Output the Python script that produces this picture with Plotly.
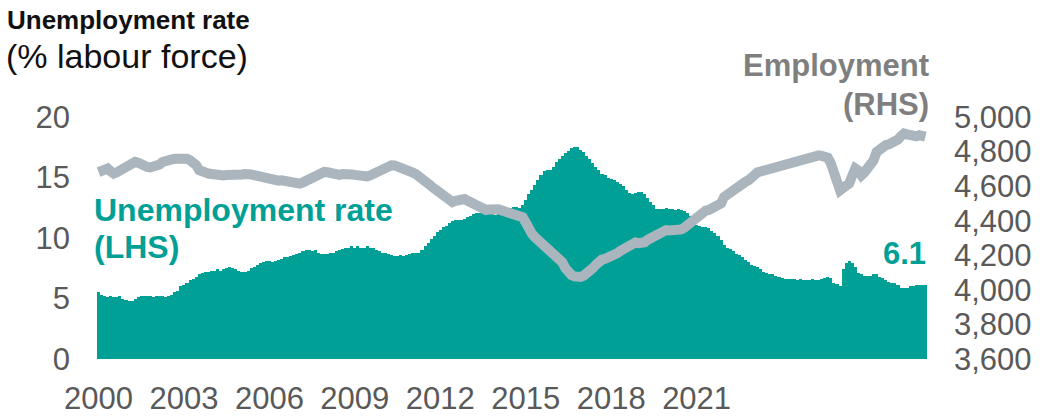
import plotly.graph_objects as go

# Monthly data, Jan 2000 .. Aug 2022
unemp_2000_2022 = [
    # 2000
    5.5, 5.3, 5.2, 5.1, 5.2, 5.1, 5.1, 5.2, 5.0, 4.9, 4.8, 4.8,
    # 2001
    5.0, 5.1, 5.2, 5.2, 5.2, 5.2, 5.1, 5.2, 5.2, 5.2, 5.1, 5.2,
    # 2002
    5.3, 5.5, 5.6, 6.0, 6.1, 6.3, 6.5, 6.6, 6.8, 7.0, 7.1, 7.2,
    # 2003
    7.2, 7.3, 7.3, 7.4, 7.3, 7.4, 7.5, 7.6, 7.5, 7.4, 7.3, 7.2,
    # 2004
    7.2, 7.3, 7.5, 7.6, 7.8, 7.9, 8.0, 8.1, 8.1, 8.0, 8.1, 8.2,
    # 2005
    8.3, 8.4, 8.4, 8.5, 8.6, 8.7, 8.8, 8.9, 9.0, 9.0, 8.9, 9.0,
    # 2006
    8.8, 8.7, 8.7, 8.7, 8.8, 8.8, 8.9, 9.0, 9.1, 9.2, 9.2, 9.3,
    # 2007
    9.2, 9.3, 9.2, 9.2, 9.3, 9.2, 9.2, 9.0, 8.9, 8.8, 8.8, 8.7,
    # 2008
    8.6, 8.5, 8.5, 8.6, 8.5, 8.6, 8.7, 8.8, 8.8, 8.8, 9.0, 9.3,
    # 2009
    9.6, 9.9, 10.2, 10.5, 10.7, 10.9, 11.0, 11.2, 11.4, 11.5, 11.5, 11.5,
    # 2010
    11.6, 11.7, 11.8, 12.0, 12.1, 12.1, 12.2, 12.1, 12.0, 12.0, 11.9, 12.0,
    # 2011
    12.2, 12.3, 12.4, 12.5, 12.6, 12.6, 12.5, 12.7, 13.1, 13.6, 14.0, 14.4,
    # 2012
    14.8, 15.2, 15.5, 15.6, 15.6, 15.9, 16.3, 16.5, 16.8, 17.0, 17.2, 17.4,
    # 2013
    17.5, 17.5, 17.3, 17.1, 16.8, 16.5, 16.2, 15.9, 15.6, 15.3, 15.2, 15.0,
    # 2014
    14.9, 14.8, 14.6, 14.5, 14.3, 14.0, 13.7, 13.6, 13.7, 13.8, 13.8, 13.6,
    # 2015
    13.3, 13.0, 12.7, 12.4, 12.4, 12.4, 12.5, 12.4, 12.4, 12.3, 12.4, 12.3,
    # 2016
    12.2, 12.1, 11.8, 11.4, 11.1, 11.0, 10.9, 10.9, 10.8, 10.6, 10.4, 10.2,
    # 2017
    9.8, 9.4, 9.2, 9.1, 8.9, 8.7, 8.6, 8.4, 8.2, 8.0, 7.8, 7.7,
    # 2018
    7.6, 7.4, 7.2, 7.1, 7.0, 7.0, 6.9, 6.8, 6.7, 6.6, 6.6, 6.6,
    # 2019
    6.6, 6.5, 6.6, 6.5, 6.5, 6.5, 6.6, 6.5, 6.5, 6.6, 6.7, 6.8,
    # 2020
    6.7, 6.3, 6.2, 6.0, 7.4, 7.9, 8.1, 7.9, 7.6, 7.1, 7.0, 6.9,
    # 2021
    6.9, 6.9, 7.0, 7.0, 6.8, 6.7, 6.5, 6.4, 6.3, 6.3, 6.1, 5.9,
    # 2022
    5.9, 5.9, 6.0, 6.0, 6.1, 6.1, 6.1, 6.1,
]

employment_thousands = [
    # 2000
    4682, 4690, 4700, 4702, 4685, 4673, 4680, 4692, 4702, 4710, 4720, 4730,
    # 2001
    4740, 4735, 4722, 4715, 4711, 4708, 4711, 4715, 4725, 4740, 4750, 4752,
    # 2002
    4755, 4758, 4760, 4762, 4760, 4758, 4750, 4740, 4722, 4692, 4680, 4675,
    # 2003
    4673, 4670, 4665, 4663, 4660, 4662, 4665, 4663, 4660, 4662, 4665, 4668,
    # 2004
    4670, 4673, 4668, 4663, 4658, 4653, 4648, 4642, 4636, 4634, 4636, 4632,
    # 2005
    4634, 4630, 4628, 4622, 4618, 4615, 4615, 4622, 4632, 4640, 4653, 4660,
    # 2006
    4668, 4676, 4682, 4680, 4675, 4668, 4663, 4665, 4670, 4673, 4672, 4668,
    # 2007
    4665, 4660, 4655, 4653, 4656, 4662, 4670, 4680, 4692, 4702, 4712, 4718,
    # 2008
    4721, 4720, 4715, 4710, 4702, 4695, 4685, 4678, 4670, 4660, 4645, 4630,
    # 2009
    4615, 4600, 4585, 4572, 4557, 4540, 4525, 4512, 4508, 4515, 4522, 4528,
    # 2010
    4525, 4515, 4505, 4499, 4490, 4478, 4466, 4462, 4465, 4470, 4470, 4466,
    # 2011
    4460, 4455, 4452, 4450, 4448, 4445, 4438, 4420, 4390, 4344, 4325, 4305,
    # 2012
    4290, 4278, 4266, 4245, 4227, 4215, 4200, 4188, 4160, 4125, 4095, 4085,
    # 2013
    4078, 4072, 4075, 4082, 4092, 4105, 4125, 4145, 4169, 4175, 4180, 4185,
    # 2014
    4188, 4200, 4212, 4225, 4237, 4250, 4265, 4276, 4275, 4270, 4266, 4275,
    # 2015
    4290, 4302, 4314, 4325, 4335, 4344, 4346, 4344, 4342, 4343, 4344, 4350,
    # 2016
    4360, 4373, 4385, 4400, 4420, 4441, 4450, 4458, 4462, 4470, 4474, 4479,
    # 2017
    4500, 4537, 4552, 4565, 4580, 4592, 4605, 4615, 4625, 4634, 4650, 4673,
    # 2018
    4680, 4685, 4690, 4692, 4698, 4705, 4712, 4721, 4725, 4730, 4733, 4736,
    # 2019
    4740, 4745, 4752, 4760, 4765, 4770, 4775, 4779, 4778, 4775, 4770, 4765,
    # 2020
    4731, 4680, 4595, 4576, 4590, 4605, 4615, 4660, 4702, 4690, 4663, 4680,
    # 2021
    4700, 4711, 4750, 4798, 4815, 4828, 4837, 4842, 4850, 4856, 4870, 4890,
    # 2022
    4905, 4900, 4892, 4886, 4888, 4895, 4892, 4886,
]

x_tick_labels = ["2000", "2003", "2006", "2009", "2012", "2015", "2018", "2021"]
label_every_n_months = 28
left_ticks = [0, 5, 10, 15, 20]
right_ticks = [3600, 3800, 4000, 4200, 4400, 4600, 4800, 5000]
latest_label = "6.1"

n = len(unemp_2000_2022)
months = list(range(n))

TEAL = "#00A096"
GREY_LINE = "#AAB5BE"
GREY_TEXT = "#7F7F7F"
TICK = "#595959"
FONT = "Arial, Liberation Sans, sans-serif"

fig = go.Figure()
fig.add_trace(go.Bar(
    x=months, y=unemp_2000_2022, width=1.0,
    marker=dict(color=TEAL, line=dict(width=0)),
    name="Unemployment rate (LHS)", yaxis="y",
))
fig.add_trace(go.Scatter(
    x=months, y=employment_thousands, mode="lines",
    line=dict(color=GREY_LINE, width=10),
    name="Employment (RHS)", yaxis="y2",
))

T, B = 117, 57
PH = 416 - T - B
L, R = 97, 136
PW = 1063 - L - R


def px(xp):
    return (xp - L) / PW


def py(yp):
    return (416 - B - yp) / PH


fig.update_layout(
    width=1063, height=416,
    margin=dict(l=L, r=R, t=T, b=B, autoexpand=False),
    paper_bgcolor="white", plot_bgcolor="white",
    showlegend=False, bargap=0,
    font=dict(family=FONT, size=31, color=TICK),
    xaxis=dict(
        range=[-0.5, n - 0.5], automargin=False,
        tickvals=[i * label_every_n_months for i in range(len(x_tick_labels))],
        ticktext=x_tick_labels,
        showgrid=False, zeroline=False, showline=False,
        ticks="", ticklabelstandoff=18,
        tickfont=dict(size=31, color=TICK),
    ),
    yaxis=dict(
        range=[0, 20], tickvals=left_ticks, automargin=False,
        showgrid=False, zeroline=False, showline=False,
        ticks="", ticklabelstandoff=26,
        tickfont=dict(size=31, color=TICK),
    ),
    yaxis2=dict(
        range=[3600, 5000], tickvals=right_ticks, tickformat=",d",
        overlaying="y", side="right", automargin=False,
        showgrid=False, zeroline=False, showline=False,
        ticks="", ticklabelstandoff=26,
        tickfont=dict(size=31, color=TICK),
    ),
)

annos = [
    dict(text="<b>Unemployment rate</b>", x=px(5), y=py(20), xanchor="left", yanchor="middle",
         font=dict(size=26, color="#111111")),
    dict(text="(% labour force)", x=px(4), y=py(56), xanchor="left", yanchor="middle",
         font=dict(size=34, color="#111111")),
    dict(text="<b>Employment</b>", x=px(931), y=py(66), xanchor="right", yanchor="middle",
         font=dict(size=31, color=GREY_TEXT)),
    dict(text="<b>(RHS)</b>", x=px(931), y=py(104), xanchor="right", yanchor="middle",
         font=dict(size=31, color=GREY_TEXT)),
    dict(text="<b>Unemployment rate</b>", x=px(92), y=py(210), xanchor="left", yanchor="middle",
         font=dict(size=32, color=TEAL)),
    dict(text="<b>(LHS)</b>", x=px(92), y=py(247), xanchor="left", yanchor="middle",
         font=dict(size=32, color=TEAL)),
    dict(text="<b>" + latest_label + "</b>", x=px(928), y=py(253), xanchor="right", yanchor="middle",
         font=dict(size=31, color=TEAL)),
]
for a in annos:
    a.update(xref="paper", yref="paper", showarrow=False)
    fig.add_annotation(**a)

fig.write_html("out.html", config={"displayModeBar": False},
               post_script="document.body.style.margin='0';")
